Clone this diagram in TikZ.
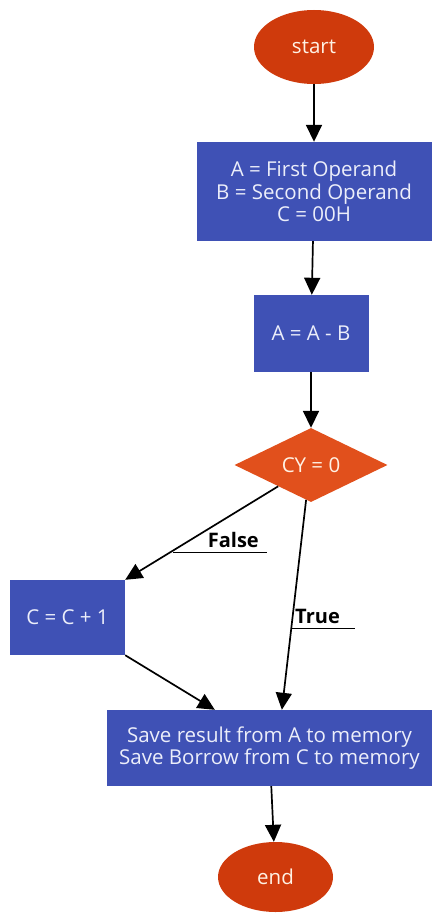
\documentclass[tikz,border=0pt]{standalone}
\usepackage{fontspec}
\setmainfont{Open Sans}
\usetikzlibrary{shapes.geometric,arrows.meta,calc}
\definecolor{boxblue}{HTML}{3F51B5}
\definecolor{termred}{HTML}{CF3A0C}
\definecolor{decorange}{HTML}{E1501C}
\definecolor{boxtext}{HTML}{ECEEFA}
\tikzset{
  x=1pt,y=1pt,
  basetext/.style={font=\fontsize{20.5}{22.5}\selectfont, text=boxtext, align=center, inner sep=0pt},
  procbox/.style={basetext, rectangle, fill=boxblue},
  termnode/.style={basetext, ellipse, fill=termred, text=white!90!orange},
  decnode/.style={basetext, diamond, fill=decorange, text=white!90!orange},
  flow/.style={draw=black, line width=1.7pt, -{Triangle[length=17pt,width=16pt]}},
  edgelabel/.style={font=\bfseries\fontsize{20}{22}\selectfont, text=black, inner sep=0pt}
}
\begin{document}
\begin{tikzpicture}
\useasboundingbox (0,0) rectangle (438,-915);
\node[termnode, minimum width=120pt, minimum height=74pt] (start) at (314,-47) {start};
\node[procbox, minimum width=235pt, minimum height=99pt] (init) at (314,-191.5) {A = First Operand\\B = Second Operand\\C = 00H};
\node[procbox, minimum width=115pt, minimum height=77pt] (sub) at (311,-333.5) {A = A - B};
\node[decnode, minimum width=153pt, minimum height=74pt] (cy) at (311,-465) {CY = 0};
\node[procbox, minimum width=115pt, minimum height=75pt] (inc) at (67.5,-617.5) {C = C + 1};
\node[procbox, minimum width=325pt, minimum height=76pt] (save) at (269.5,-748) {Save result from A to memory\\Save Borrow from C to memory};
\node[termnode, minimum width=115pt, minimum height=70pt] (end) at (275.5,-877) {end};

\draw[flow] (start) -- (init);
\draw[flow] (init) -- (sub);
\draw[flow] (sub) -- (cy);
\draw[flow] (cy.213) -- (inc.north east);
\draw[flow] (cy.262) -- ($(save.north west)!0.538!(save.north east)$);
\draw[flow] (inc.south east) -- ($(save.north west)!0.332!(save.north east)$);
\draw[flow] (save) -- (end);

\node[edgelabel, anchor=south east] (flab) at (259,-548) {False};
\draw[line width=0.9pt] (173,-552) coordinate (fl1) -- (267,-552) coordinate (fl2);
\node[edgelabel, anchor=south west] (tlab) at (295,-624) {True};
\draw[line width=0.9pt] (291,-628) coordinate (tl1) -- (355,-628) coordinate (tl2);
\end{tikzpicture}
\end{document}
